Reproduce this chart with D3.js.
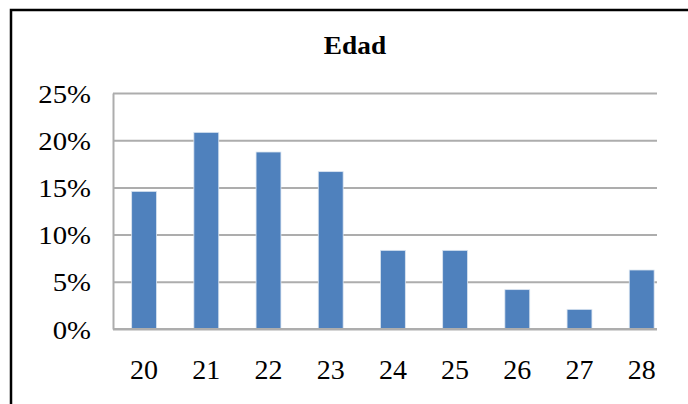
<!DOCTYPE html>
<html>
<head>
<meta charset="utf-8">
<script src="https://cdn.jsdelivr.net/npm/d3@7"></script>
<style>
  body { margin: 0; background: #fff; }
  svg { display: block; }
  text { font-family: "Liberation Serif", "Times New Roman", serif; fill: #000; }
</style>
</head>
<body>
<svg id="chart" width="688" height="404"></svg>
<script>
// chart data
let ages = ["20", "21", "22", "23", "24", "25", "26", "27", "28"];
let percents = [14.58, 20.83, 18.75, 16.67, 8.33, 8.33, 4.17, 2.08, 6.25];
let yTicks = [0, 5, 10, 15, 20, 25];
let title = "Edad";

let svg = d3.select("#chart"),
    width = 688,
    height = 404;

let plot_left = 113,
    plot_top = 93,
    plot_bottom = 329,
    grid_right = 657,
    step = 62.2;

let x = d3.scaleBand()
    .domain(ages)
    .range([plot_left, plot_left + step * ages.length])
    .paddingInner(0.6)
    .paddingOuter(0.3);

let y = d3.scaleLinear()
    .domain([0, 25])
    .range([plot_bottom, plot_top]);

// outer frame (only top and left edges show)
svg.append("path")
    .attr("d", "M11," + height + "V10H" + width)
    .attr("fill", "none")
    .attr("stroke", "#000")
    .attr("stroke-width", 2.5);

// title
svg.append("text")
    .attr("x", 355)
    .attr("y", 54)
    .attr("text-anchor", "middle")
    .style("font-size", "26px")
    .style("font-weight", "bold")
    .text(title)
    .each(function() {
        let w = this.getComputedTextLength();
        d3.select(this)
            .attr("textLength", w * 1.05)
            .attr("lengthAdjust", "spacingAndGlyphs");
    });

// y axis with gridlines
let yAxis = svg.append("g")
    .attr("transform", "translate(" + plot_left + ",0)")
    .call(d3.axisLeft(y)
        .tickValues(yTicks)
        .tickFormat(d => d + "%")
        .tickSizeInner(-(grid_right - plot_left))
        .tickSizeOuter(0)
        .tickPadding(22));

yAxis.select(".domain")
    .attr("stroke", "#adadad")
    .attr("stroke-width", 2);

yAxis.selectAll(".tick line")
    .attr("stroke", "#adadad")
    .attr("stroke-width", 2);

yAxis.selectAll(".tick text")
    .attr("dy", null)
    .attr("y", 9)
    .attr("fill", "#000")
    .style("font-size", "25px")
    .each(function() {
        let w = this.getComputedTextLength();
        d3.select(this)
            .attr("textLength", w * 1.15)
            .attr("lengthAdjust", "spacingAndGlyphs");
    });

// bars
svg.append("g")
    .selectAll("rect")
    .data(percents)
    .enter()
    .append("rect")
    .attr("x", (d, i) => x(ages[i]))
    .attr("y", d => y(d))
    .attr("width", x.bandwidth())
    .attr("height", d => y(0) - y(d))
    .attr("fill", "#4f81bd")
    .attr("stroke", "#dbe5f1")
    .attr("stroke-width", 0.8);

// bottom axis line redrawn over bars
svg.append("line")
    .attr("x1", plot_left)
    .attr("x2", grid_right)
    .attr("y1", y(0))
    .attr("y2", y(0))
    .attr("stroke", "#adadad")
    .attr("stroke-width", 2);

// x labels
svg.append("g")
    .selectAll("text")
    .data(ages)
    .enter()
    .append("text")
    .attr("x", d => x(d) + x.bandwidth() / 2)
    .attr("y", 379)
    .attr("text-anchor", "middle")
    .style("font-size", "28px")
    .text(d => d);
</script>
</body>
</html>
